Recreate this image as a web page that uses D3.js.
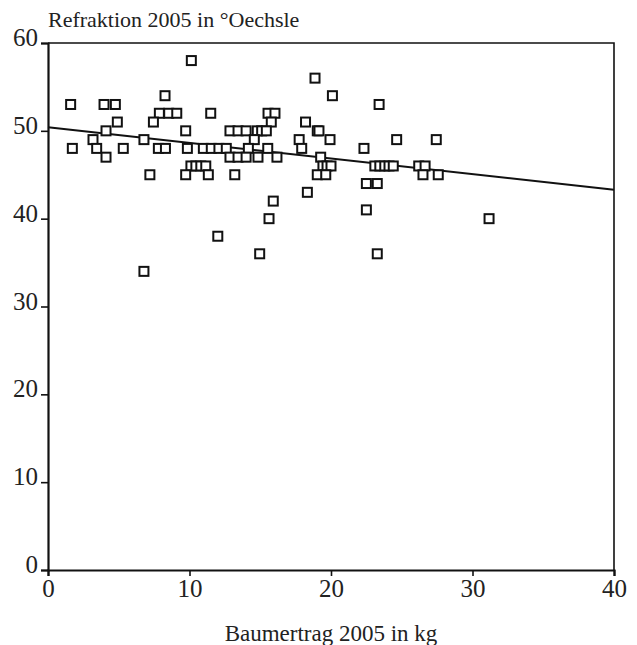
<!DOCTYPE html>
<html>
<head>
<meta charset="utf-8">
<script src="https://cdn.jsdelivr.net/npm/d3@7"></script>
<style>
  html, body { margin: 0; padding: 0; background: #fff; }
  svg { display: block; }
  text { font-family: "Liberation Serif", "DejaVu Serif", serif; fill: #222; }
</style>
</head>
<body>
<svg id="chart" width="637" height="645"></svg>
<script>
// Baumertrag 2005 in kg (x)
const yieldKg = [
  1.6, 3.96, 4.76, 23.4,
  10.13,
  18.87,
  8.27, 20.1,
  7.87, 8.53, 9.1, 11.5, 15.55, 16.04,
  4.9, 7.45, 15.78, 18.2,
  4.1, 9.73, 12.86, 13.43, 14.0, 14.79, 15.1, 15.43, 19.03, 19.15,
  3.18, 6.78, 14.58, 17.75, 19.93, 24.64, 27.44,
  1.72, 3.44, 5.32, 7.8, 8.3, 9.85, 10.98, 11.54, 12.08, 12.6, 14.16, 15.53, 17.93, 22.33,
  4.1, 12.86, 13.43, 14.0, 14.84, 16.18, 19.27,
  10.1, 10.45, 10.8, 11.15, 19.43, 19.72, 20.0, 23.1, 23.45, 23.8, 24.1, 24.4, 26.2, 26.65,
  7.2, 9.73, 11.33, 13.2, 19.03, 19.63, 26.5, 27.58,
  22.5, 23.27,
  18.33,
  15.92,
  22.5,
  15.62, 31.17,
  12.0,
  14.96, 23.27,
  6.78
];
// Refraktion 2005 in °Oechsle (y)
const oechsle = [
  53, 53, 53, 53,
  58,
  56,
  54, 54,
  52, 52, 52, 52, 52, 52,
  51, 51, 51, 51,
  50, 50, 50, 50, 50, 50, 50, 50, 50, 50,
  49, 49, 49, 49, 49, 49, 49,
  48, 48, 48, 48, 48, 48, 48, 48, 48, 48, 48, 48, 48, 48,
  47, 47, 47, 47, 47, 47, 47,
  46, 46, 46, 46, 46, 46, 46, 46, 46, 46, 46, 46, 46, 46,
  45, 45, 45, 45, 45, 45, 45, 45,
  44, 44,
  43,
  42,
  41,
  40, 40,
  38,
  36, 36,
  34
];
// Regression line end points (x, y)
const trendX = [0, 40];
const trendY = [50.4, 43.3];

const xTicks = [0, 10, 20, 30, 40];
const yTicks = [0, 10, 20, 30, 40, 50, 60];
const yTitle = "Refraktion 2005 in °Oechsle";
const xTitle = "Baumertrag 2005 in kg";

const W = 637, H = 645;
const margin = { left: 48, right: 23, top: 43, bottom: 75 };
const svg = d3.select("#chart");

const x = d3.scaleLinear().domain([0, 40]).range([margin.left, W - margin.right]);
const y = d3.scaleLinear().domain([0, 60]).range([H - margin.bottom, margin.top]);

// frame (top and right)
svg.append("path")
  .attr("d", `M${x(0)},${y(60)}H${x(40)}V${y(0)}`)
  .attr("fill", "none").attr("stroke", "#111").attr("stroke-width", 1.6);

// x axis
const gx = svg.append("g")
  .attr("transform", `translate(0,${y(0)})`)
  .call(d3.axisBottom(x).tickValues(xTicks).tickSize(6).tickPadding(3).tickFormat(d3.format("d")));
gx.select(".domain").attr("stroke", "#111").attr("stroke-width", 2.2);
gx.selectAll(".tick line").attr("stroke", "#111").attr("stroke-width", 1.6);
gx.selectAll(".tick text").style("font-family", '"Liberation Serif", serif').style("font-size", "25px").attr("fill", "#222");

// y axis
const gy = svg.append("g")
  .attr("transform", `translate(${x(0)},0)`)
  .call(d3.axisLeft(y).tickValues(yTicks).tickSize(7).tickPadding(3).tickFormat(d3.format("d")));
gy.select(".domain").attr("stroke", "#111").attr("stroke-width", 2.2);
gy.selectAll(".tick line").attr("stroke", "#111").attr("stroke-width", 1.6);
gy.selectAll(".tick text").style("font-family", '"Liberation Serif", serif').style("font-size", "25px").attr("fill", "#222")
  .attr("dy", "0.1em");

// trend line
svg.append("line")
  .attr("x1", x(trendX[0])).attr("y1", y(trendY[0]))
  .attr("x2", x(trendX[1])).attr("y2", y(trendY[1]))
  .attr("stroke", "#111").attr("stroke-width", 2);

// points
const s = 9;
svg.append("g").selectAll("rect")
  .data(yieldKg.map((v, i) => [v, oechsle[i]]))
  .join("rect")
  .attr("x", d => x(d[0]) - s / 2)
  .attr("y", d => y(d[1]) - s / 2)
  .attr("width", s).attr("height", s)
  .attr("fill", "#fff").attr("stroke", "#111").attr("stroke-width", 2);

// titles
svg.append("text").attr("x", 48).attr("y", 27)
  .style("font-size", "22px").text(yTitle);
svg.append("text").attr("x", (x(0) + x(40)) / 2).attr("y", 641)
  .attr("text-anchor", "middle").style("font-size", "23px").text(xTitle);
</script>
</body>
</html>
